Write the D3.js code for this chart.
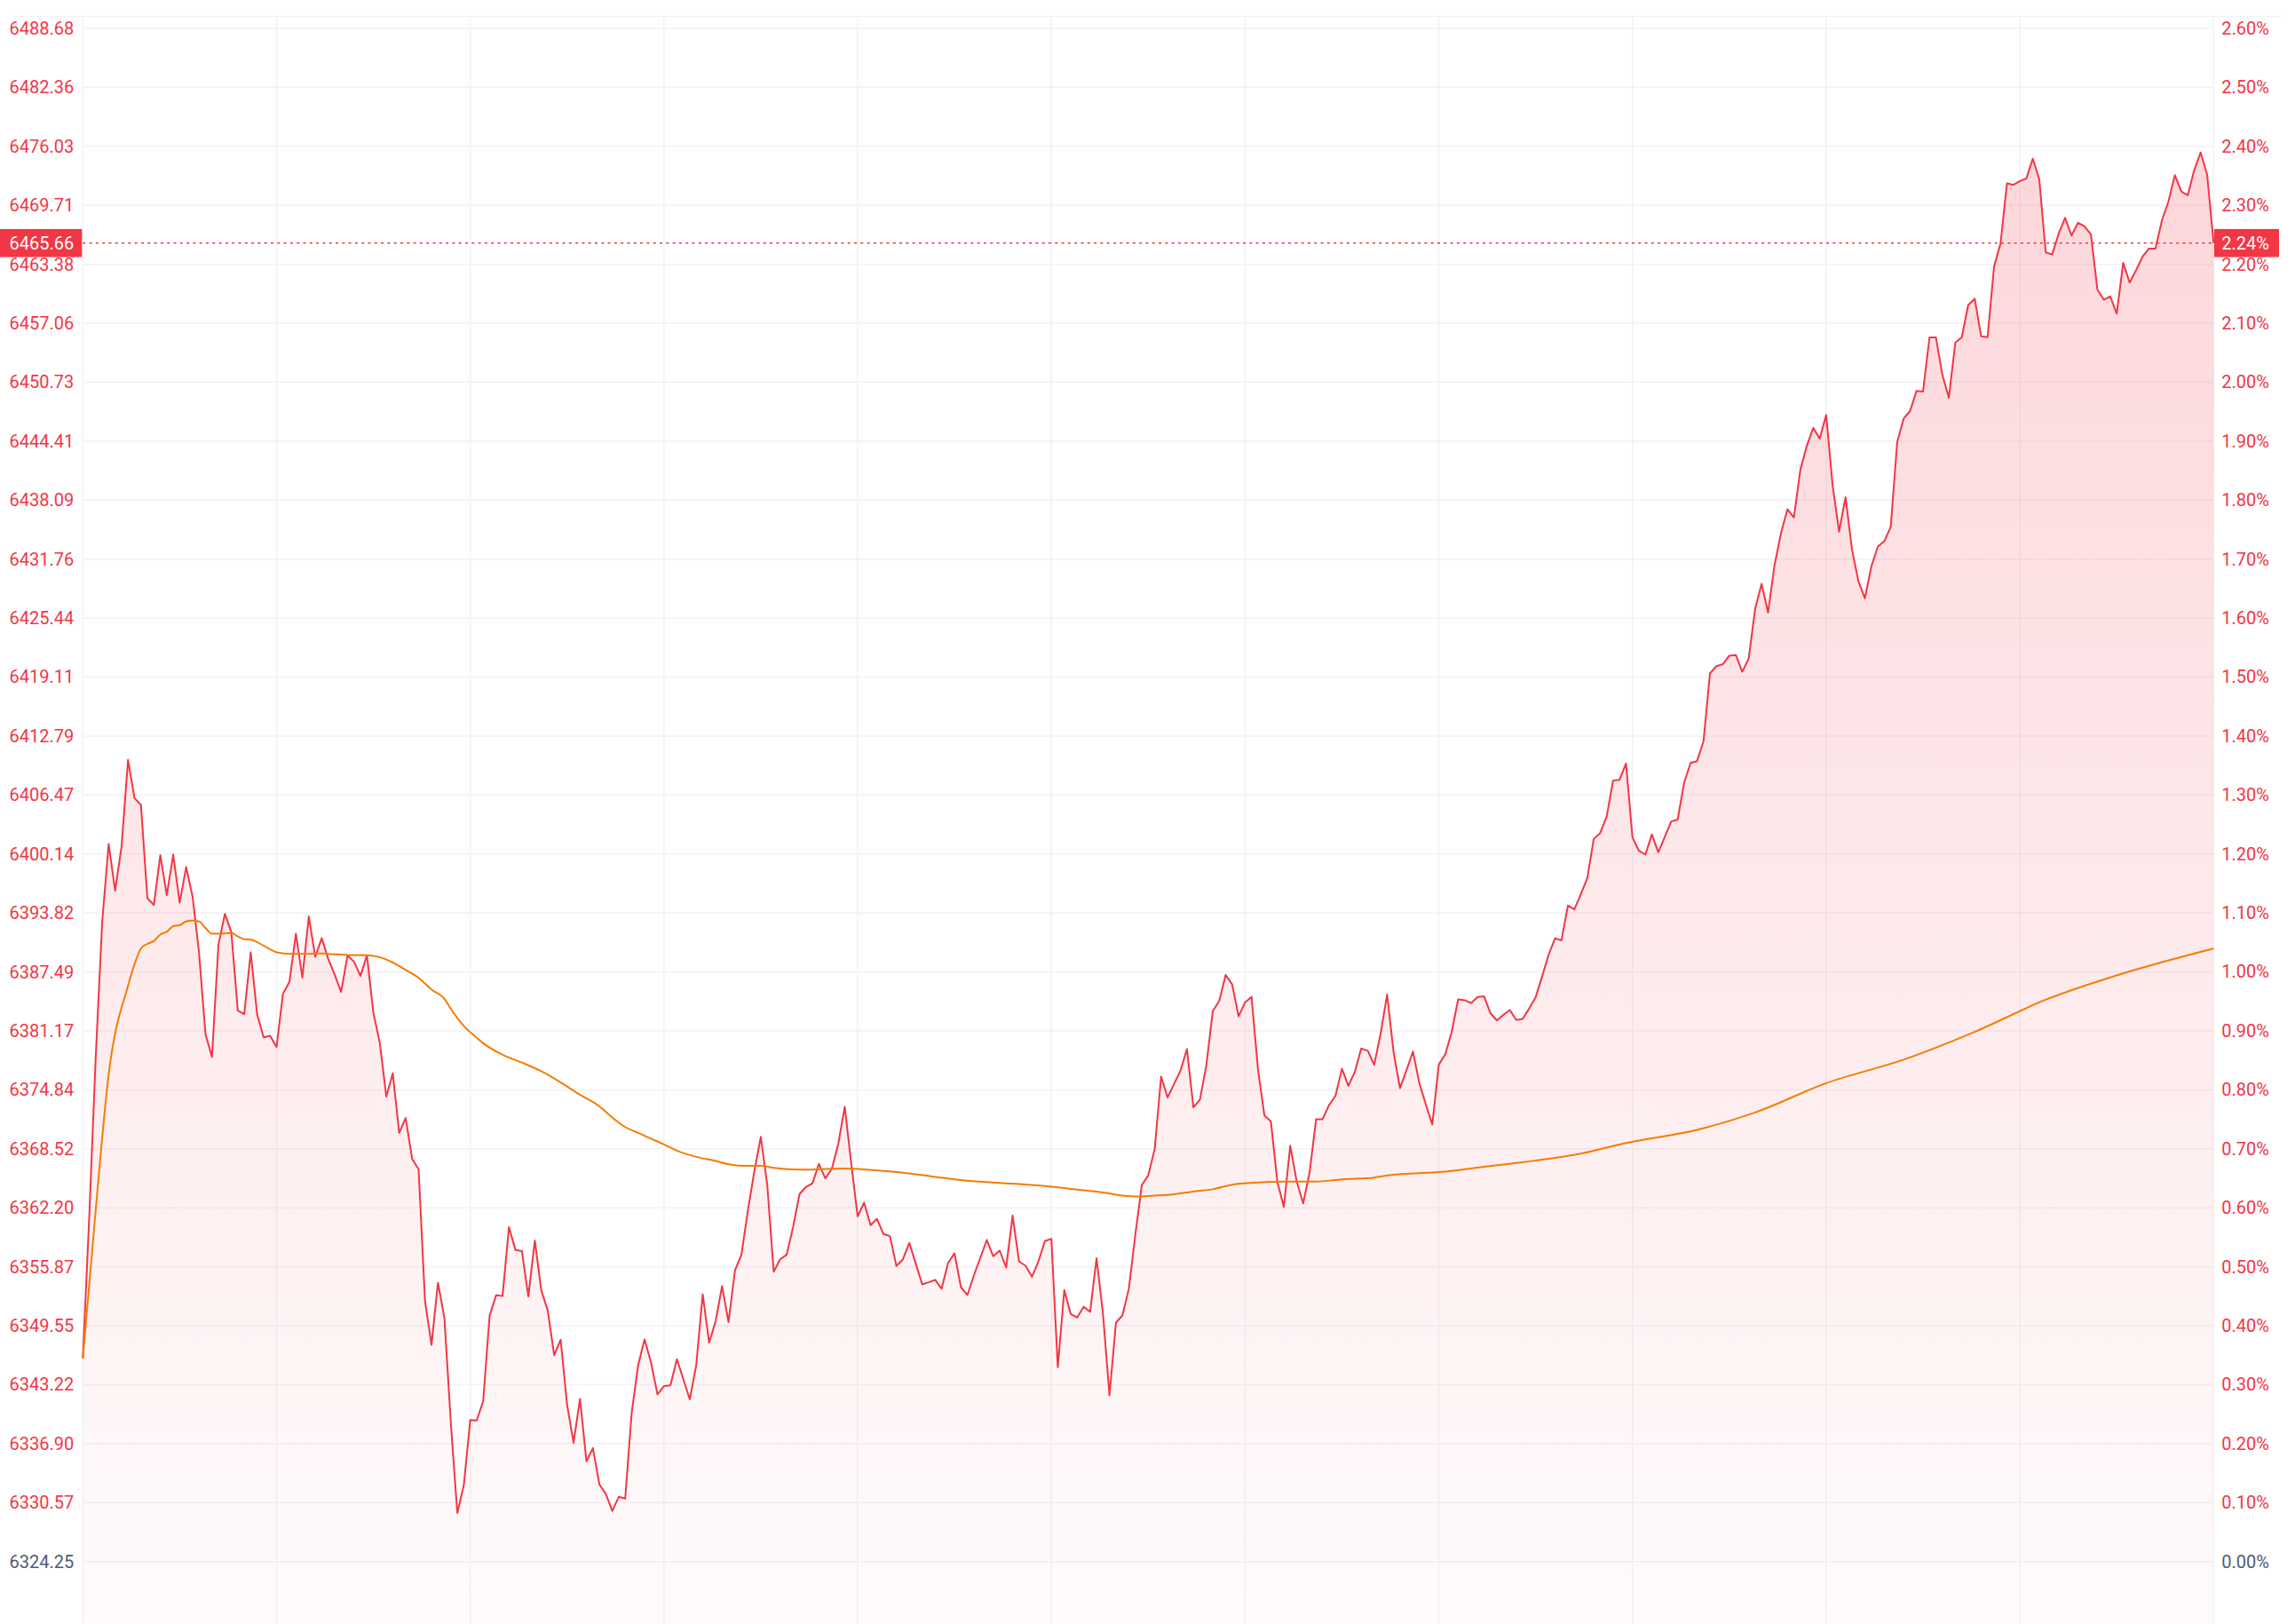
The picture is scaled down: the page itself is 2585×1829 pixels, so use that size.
<!DOCTYPE html>
<html><head><meta charset="utf-8">
<script src="https://cdn.jsdelivr.net/npm/d3@7"></script>
<style>html,body{margin:0;padding:0;background:#fff;overflow:hidden}svg{display:block}</style>
</head><body>
<svg id="chart" width="2585" height="1829"></svg>
<script>
// ---- DATA (one value per minute from 09:30 to 15:00) ----
const priceValues = [
6346.05,6361.28,6378.42,6392.86,6401.21,6396.20,6400.96,6410.23,6406.13,6405.40,
6395.40,6394.67,6400.01,6395.72,6400.06,6394.92,6398.73,6395.56,6389.53,6380.80,
6378.35,6390.39,6393.72,6391.75,6383.34,6382.96,6389.59,6382.92,6380.48,6380.64,
6379.44,6385.15,6386.42,6391.59,6386.89,6393.44,6389.11,6391.11,6388.89,6387.21,
6385.34,6389.27,6388.58,6387.05,6389.27,6383.11,6379.85,6374.13,6376.62,6370.23,
6371.83,6367.44,6366.33,6352.15,6347.49,6354.15,6350.38,6339.07,6329.46,6332.43,
6339.43,6339.39,6341.43,6350.61,6352.82,6352.73,6360.13,6357.66,6357.56,6352.69,
6358.67,6353.35,6351.18,6346.39,6348.03,6341.08,6336.99,6341.70,6335.00,6336.42,
6332.53,6331.50,6329.68,6331.19,6331.01,6340.18,6345.29,6348.08,6345.59,6342.18,
6343.07,6343.15,6345.95,6343.82,6341.65,6345.29,6352.91,6347.72,6350.03,6353.80,
6349.93,6355.48,6357.16,6361.90,6366.12,6369.80,6364.65,6355.34,6356.67,6357.16,
6360.13,6363.67,6364.43,6364.83,6366.90,6365.35,6366.36,6369.06,6373.02,6367.00,
6361.28,6362.74,6360.33,6361.00,6359.38,6359.16,6355.95,6356.65,6358.43,6356.21,
6353.98,6354.21,6354.46,6353.51,6356.27,6357.31,6353.67,6352.84,6354.93,6356.84,
6358.74,6357.00,6357.60,6355.79,6361.35,6356.43,6355.98,6354.78,6356.46,6358.62,
6358.87,6345.10,6353.35,6350.81,6350.43,6351.57,6351.03,6356.78,6350.81,6342.08,
6349.86,6350.65,6353.51,6359.28,6364.62,6365.66,6368.47,6376.27,6374.03,6375.47,
6376.91,6379.21,6372.97,6373.77,6377.44,6383.29,6384.39,6387.16,6386.16,6382.72,
6384.22,6384.82,6377.04,6372.09,6371.46,6365.01,6362.28,6368.85,6365.01,6362.67,
6366.02,6371.69,6371.69,6373.20,6374.19,6377.11,6375.27,6376.78,6379.28,6379.04,
6377.54,6380.88,6385.06,6378.88,6375.03,6376.94,6378.95,6375.54,6373.26,6371.13,
6377.54,6378.64,6381.05,6384.55,6384.46,6384.15,6384.79,6384.89,6383.07,6382.29,
6382.88,6383.41,6382.33,6382.45,6383.56,6384.77,6386.99,6389.31,6391.09,6390.87,
6394.61,6394.20,6395.82,6397.53,6401.75,6402.39,6404.13,6408.01,6408.10,6409.84,
6401.91,6400.48,6400.07,6402.23,6400.32,6401.97,6403.63,6403.83,6407.78,6409.90,
6410.10,6412.21,6419.51,6420.28,6420.49,6421.41,6421.48,6419.68,6421.09,6426.44,
6429.12,6426.02,6431.12,6434.54,6437.11,6436.23,6441.34,6443.91,6445.84,6444.68,
6447.22,6439.65,6434.71,6438.41,6432.79,6429.36,6427.55,6431.00,6433.12,6433.68,
6435.22,6444.32,6446.83,6447.66,6449.81,6449.74,6455.53,6455.53,6451.51,6449.07,
6454.98,6455.57,6459.02,6459.69,6455.66,6455.57,6463.15,6465.60,6472.07,6471.90,
6472.31,6472.59,6474.71,6472.52,6464.66,6464.43,6466.66,6468.37,6466.47,6467.83,
6467.45,6466.59,6460.69,6459.58,6459.93,6458.09,6463.55,6461.42,6462.76,6464.21,
6465.07,6465.07,6468.09,6470.09,6472.94,6471.19,6470.78,6473.48,6475.38,6473.00,
6465.66
];
// average line, sampled at these bar indices
const avgIndex = [0,2,4,7,8,9,10,11,12,13,14,15,16,17,18,19,20,21,23,24,25,26,28,30,32,35,37,39,41,44,46,48,50,52,54,56,57,59,61,62,65,68,71,74,77,80,82,84,86,88,90,92,95,98,100,103,105,107,111,113,118,124,128,132,137,144,149,154,158,161,163,166,168,172,175,178,182,186,191,195,200,203,207,211,216,221,232,239,250,259,270,282,293,304,316,330];
const avgValues = [6346.05,6362.0,6376.5,6386.0,6388.3,6390.0,6390.5,6390.8,6391.5,6391.8,6392.4,6392.5,6392.9,6393.0,6392.9,6392.2,6391.6,6391.6,6391.66,6391.3,6391.0,6390.96,6390.3,6389.6,6389.44,6389.44,6389.47,6389.37,6389.31,6389.28,6389.06,6388.5,6387.7,6386.86,6385.6,6384.6,6383.53,6381.71,6380.43,6379.85,6378.61,6377.77,6376.84,6375.64,6374.32,6373.07,6371.88,6370.86,6370.23,6369.61,6368.99,6368.33,6367.66,6367.22,6366.87,6366.69,6366.69,6366.47,6366.29,6366.30,6366.40,6366.14,6365.88,6365.50,6365.09,6364.78,6364.52,6364.14,6363.83,6363.50,6363.41,6363.50,6363.57,6363.94,6364.18,6364.67,6364.91,6365.00,6365.00,6365.24,6365.44,6365.74,6365.91,6366.08,6366.51,6366.91,6368.01,6369.15,6370.55,6372.42,6375.56,6378.08,6381.06,6384.51,6387.34,6390.01];
const priceTickLabels = ["6324.25","6330.57","6336.90","6343.22","6349.55","6355.87","6362.20","6368.52","6374.84","6381.17","6387.49","6393.82","6400.14","6406.47","6412.79","6419.11","6425.44","6431.76","6438.09","6444.41","6450.73","6457.06","6463.38","6469.71","6476.03","6482.36","6488.68"];
const percentTickLabels = ["0.00%","0.10%","0.20%","0.30%","0.40%","0.50%","0.60%","0.70%","0.80%","0.90%","1.00%","1.10%","1.20%","1.30%","1.40%","1.50%","1.60%","1.70%","1.80%","1.90%","2.00%","2.10%","2.20%","2.30%","2.40%","2.50%","2.60%"];
const timeGridIndex = [0,30,60,90,120,150,180,210,240,270,300,330];
const lastPriceLabel = "6465.66";
const lastPercentLabel = "2.24%";

(function draw() {
  // ---- STYLE / LAYOUT ----
  const W = 2585, H = 1829;
  const plotL = 93.3, plotR = 2493.3, plotT = 32, zeroY = 1758.7;
  const RED = "#F23645", ORANGE = "#F57C00", GRID = "#f2f2f4", NEUTRAL = "#4f5b78";
  const FONT = "Roboto, 'Noto Sans', sans-serif";

  const svg = d3.select("#chart");
  const x = d3.scaleLinear().domain([0, priceValues.length - 1]).range([plotL, plotR]);
  const pMin = +priceTickLabels[0], pMax = +priceTickLabels[priceTickLabels.length - 1];
  const y = d3.scaleLinear().domain([pMin, pMax]).range([zeroY, plotT]);
  const yPct = d3.scaleLinear().domain([0, parseFloat(percentTickLabels[percentTickLabels.length - 1])]).range([zeroY, plotT]);

  const defs = svg.append("defs");
  const grad = defs.append("linearGradient").attr("id", "areaGrad")
    .attr("gradientUnits", "userSpaceOnUse").attr("x1", 0).attr("x2", 0)
    .attr("y1", y(d3.max(priceValues))).attr("y2", H);
  grad.append("stop").attr("offset", 0).attr("stop-color", RED).attr("stop-opacity", 0.2);
  grad.append("stop").attr("offset", 1).attr("stop-color", RED).attr("stop-opacity", 0.02);

  svg.append("line").attr("x1", 16).attr("x2", 2570).attr("y1", 18.5).attr("y2", 18.5)
    .attr("stroke", GRID).attr("stroke-width", 1.5);

  const g = svg.append("g");
  g.selectAll("line.h").data(priceTickLabels).join("line")
    .attr("x1", plotL).attr("x2", plotR)
    .attr("y1", d => y(+d)).attr("y2", d => y(+d))
    .attr("stroke", GRID).attr("stroke-width", 1.5);
  g.selectAll("line.v").data(timeGridIndex).join("line")
    .attr("x1", d => x(d)).attr("x2", d => x(d))
    .attr("y1", 20).attr("y2", H)
    .attr("stroke", GRID).attr("stroke-width", 1.5);

  const idx = priceValues.map((v, i) => i);
  svg.append("path").datum(idx)
    .attr("d", d3.area().x(i => x(i)).y0(H).y1(i => y(priceValues[i])))
    .attr("fill", "url(#areaGrad)");
  svg.append("path").datum(idx)
    .attr("d", d3.line().x(i => x(i)).y(i => y(priceValues[i])))
    .attr("fill", "none").attr("stroke", RED).attr("stroke-width", 2).attr("stroke-linejoin", "round");

  svg.append("path").datum(avgIndex.map((k, j) => [k, avgValues[j]]))
    .attr("d", d3.line().x(d => x(d[0])).y(d => y(d[1])).curve(d3.curveMonotoneX))
    .attr("fill", "none").attr("stroke", ORANGE).attr("stroke-width", 2);

  const lastY = y(+lastPriceLabel);
  svg.append("line").attr("x1", plotL).attr("x2", plotR).attr("y1", lastY).attr("y2", lastY)
    .attr("stroke", RED).attr("stroke-width", 1.5).attr("stroke-dasharray", "3 4.3");

  const axL = svg.append("g").attr("transform", `translate(${plotL},0)`)
    .call(d3.axisLeft(y).tickValues(priceTickLabels.map(Number)).tickFormat((d, i) => priceTickLabels[i]).tickSize(0).tickPadding(10));
  const axR = svg.append("g").attr("transform", `translate(${plotR},0)`)
    .call(d3.axisRight(yPct).tickValues(percentTickLabels.map(parseFloat)).tickFormat((d, i) => percentTickLabels[i]).tickSize(0).tickPadding(9));
  [axL, axR].forEach(a => {
    a.select(".domain").remove();
    a.selectAll("text").attr("font-family", FONT).attr("font-size", 20)
      .attr("fill", (d, i) => i === 0 ? NEUTRAL : RED);
  });

  const bh = 31.6;
  svg.append("rect").attr("x", 0).attr("y", lastY - bh / 2).attr("width", plotL - 1).attr("height", bh).attr("fill", RED);
  svg.append("text").attr("x", plotL - 10).attr("y", lastY).attr("dy", "0.35em").attr("text-anchor", "end")
    .attr("font-family", FONT).attr("font-size", 20).attr("fill", "#fff").text(lastPriceLabel);
  svg.append("rect").attr("x", plotR + 0.7).attr("y", lastY - bh / 2).attr("width", 73).attr("height", bh).attr("fill", RED);
  svg.append("text").attr("x", plotR + 9).attr("y", lastY).attr("dy", "0.35em").attr("text-anchor", "start")
    .attr("font-family", FONT).attr("font-size", 20).attr("fill", "#fff").text(lastPercentLabel);
})();
</script>
</body></html>
